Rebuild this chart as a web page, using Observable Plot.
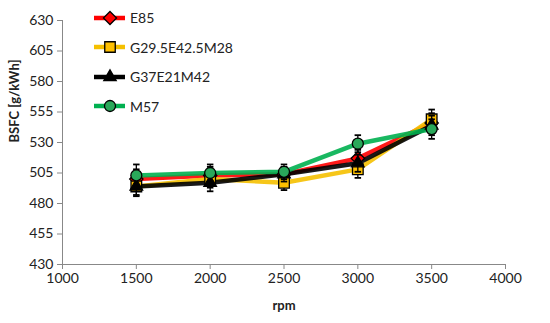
<!DOCTYPE html>
<html><head><meta charset="utf-8">
<script src="https://cdn.jsdelivr.net/npm/d3@7"></script>
<script src="https://cdn.jsdelivr.net/npm/@observablehq/plot@0.6"></script>
<style>
body{margin:0;background:#fff;font-family:Lato,sans-serif;}
#wrap{position:relative;width:550px;height:323px;}
#legend{position:absolute;left:92px;top:3px;font:14px Lato,sans-serif;color:#222;}
.row{display:flex;align-items:center;height:29.5px;}
.row svg{margin-right:3px;}
</style></head>
<body><div id="wrap"><div id="legend"></div></div>
<script>
const rpm = [1500, 2000, 2500, 3000, 3500];
const seriesNames = ["E85", "G29.5E42.5M28", "G37E21M42", "M57"];
const E85 = [500, 503, 504, 517, 546];
const G29 = [494, 500, 497, 508, 549];
const G37 = [494, 497, 504, 513, 544];
const M57 = [503, 505, 506, 529, 541];
const errE85 = [8, 7, 6, 7, 8];
const errG29 = [7, 7, 6, 7, 8];
const errG37 = [8, 7, 6, 7, 8];
const errM57 = [9, 7, 6, 7, 8];
const colors = ["#ff0000", "#f5c000", "#000000", "#00b050"];
const fills = ["#ff0000", "#ffc000", "#000000", "#2aa85a"];
const symbols = ["diamond2", "square", "triangle2", "circle"];
const xTicks = [1000, 1500, 2000, 2500, 3000, 3500, 4000];
const yTicks = [430, 455, 480, 505, 530, 555, 580, 605, 630];

const vals = [E85, G29, G37, M57];
const errs = [errE85, errG29, errG37, errM57];
const data = [];
seriesNames.forEach((s, i) => rpm.forEach((r, j) => data.push({series: s, idx: i, x: r, y: vals[i][j], e: errs[i][j]})));

const marks = [
  Plot.ruleX([1000], {y1: 430, y2: 630, stroke: "#888", strokeWidth: 1}),
  Plot.ruleY([430], {stroke: "#888", strokeWidth: 1}),
  Plot.axisX({ticks: xTicks, tickSize: 5, tickPadding: 4, tickFormat: d => String(d), stroke: "#888", fill: "#222", label: null, fontSize: 14}),
  Plot.axisY({ticks: yTicks, tickSize: 5, tickPadding: 4, tickFormat: d => String(d), stroke: "#888", fill: "#222", label: null, fontSize: 14}),
];
seriesNames.forEach((s, i) => {
  const d = data.filter(p => p.idx === i);
  marks.push(Plot.line(d, {x: "x", y: "y", stroke: colors[i], strokeWidth: 4.5, strokeOpacity: 0.9}));
});
seriesNames.forEach((s, i) => {
  const d = data.filter(p => p.idx === i);
  marks.push(Plot.link(d, {x1: "x", x2: "x", y1: p => p.y - p.e, y2: p => p.y + p.e, stroke: "#000", strokeWidth: 1.3}));
  marks.push(Plot.link(d, {x1: p => p.x - 22, x2: p => p.x + 22, y1: p => p.y + p.e, y2: p => p.y + p.e, stroke: "#000", strokeWidth: 1.8}));
  marks.push(Plot.link(d, {x1: p => p.x - 22, x2: p => p.x + 22, y1: p => p.y - p.e, y2: p => p.y - p.e, stroke: "#000", strokeWidth: 1.8}));
  marks.push(Plot.dot(d, {x: "x", y: "y", symbol: () => symbols[i], fill: fills[i], stroke: "#000", strokeWidth: 1.3, r: symbols[i] === "circle" ? 5.5 : 6}));
});

const chart = Plot.plot({
  width: 550, height: 323,
  marginLeft: 62, marginRight: 45, marginTop: 20, marginBottom: 59,
  style: {fontFamily: "Lato, sans-serif", fontSize: "14px", color: "#222", background: "#fff"},
  x: {domain: [1000, 4000]},
  y: {domain: [430, 630]},
  marks: [
    ...marks,
    Plot.text(["rpm"], {frameAnchor: "bottom", dy: 45, fontWeight: "bold", fontSize: 13, fill: "#222"}),
    Plot.text(["BSFC [g/kWh]"], {frameAnchor: "left", dx: -48, rotate: -90, fontWeight: "bold", fontSize: 13, fill: "#222"})
  ]
});
document.getElementById("wrap").prepend(chart);

const leg = document.getElementById("legend");
seriesNames.forEach((s, i) => {
  const row = document.createElement("div");
  row.className = "row";
  const sym = d3.symbol().type([d3.symbolDiamond2, d3.symbolSquare, d3.symbolTriangle2, d3.symbolCircle][i]).size(i === 3 ? 95 : 110)();
  row.innerHTML = `<svg width="35" height="20"><line x1="2" x2="33" y1="10" y2="10" stroke="${colors[i]}" stroke-width="4.5"/><path transform="translate(18,10)" d="${sym}" fill="${fills[i]}" stroke="#000" stroke-width="1.3"/></svg><span>${s}</span>`;
  leg.appendChild(row);
});
</script></body></html>
